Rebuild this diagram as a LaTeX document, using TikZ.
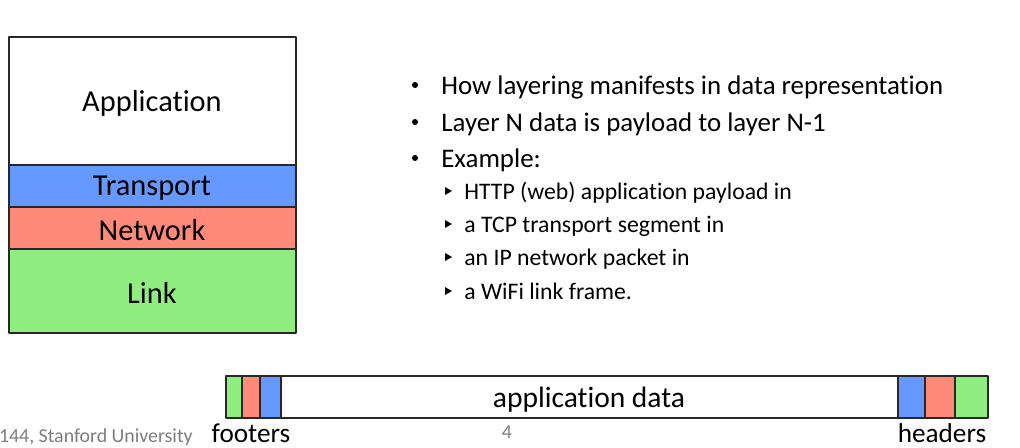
\documentclass[tikz,border=0pt]{standalone}
\usepackage{fontspec}
\setmainfont{Carlito}[Ligatures={NoCommon}]
\usetikzlibrary{positioning}
\definecolor{layblue}{RGB}{102,153,255}
\definecolor{layred}{RGB}{255,138,122}
\definecolor{laygreen}{RGB}{144,238,128}
\definecolor{framegray}{RGB}{40,40,40}
\definecolor{slidegray}{RGB}{125,125,125}
\tikzset{
  layer/.style={draw=framegray, line width=0.7pt},
  layertxt/.style={font=\fontsize{17.3}{20}\selectfont},
  datatxt/.style={font=\fontsize{16.8}{20}\selectfont},
  edgetxt/.style={inner sep=0pt, font=\fontsize{15.5}{18}\selectfont},
  maintxt/.style={anchor=base west, inner sep=0pt, font=\fontsize{15.3}{18}\selectfont},
  subtxt/.style={anchor=base west, inner sep=0pt, font=\fontsize{13.5}{16}\selectfont},
  slidetxt/.style={text=slidegray, inner sep=0pt, font=\fontsize{11.3}{13}\selectfont}
}
\begin{document}
\begin{tikzpicture}[x=0.02cm, y=-0.02cm, line join=round]
    \useasboundingbox (0,0) rectangle (1020,447);
    % layer stack
    \filldraw[layer, fill=white]    (9,37)  rectangle (296,165);
    \filldraw[layer, fill=layblue]  (9,165) rectangle (296,207);
    \filldraw[layer, fill=layred]   (9,207) rectangle (296,249);
    \filldraw[layer, fill=laygreen] (9,249) rectangle (296,333);
    \node[layertxt] (app)  at (152,103) {Application};
    \node[layertxt] (tran) at (152,188) {Transport};
    \node[layertxt] (net)  at (152,230) {Network};
    \node[layertxt] (link) at (152,293) {Link};
    % bullets
    \foreach \y/\t [count=\i] in {94/How layering manifests in data representation,
        131/Layer N data is payload to layer N-1, 167/Example:} {
      \fill (415,\y-9) circle (3);
      \node[maintxt] (b\i) at (441,\y) {\t};
    }
    \foreach \y/\t [count=\i] in {199/HTTP (web) application payload in,
        232/a TCP transport segment in, 265/an IP network packet in,
        299/a WiFi link frame.} {
      \fill (445,\y-12) -- (452,\y-8) -- (445,\y-4) -- cycle;
      \node[subtxt] (s\i) at (464,\y) {\t};
    }
    % packet
    \filldraw[layer, fill=laygreen] (226,376) rectangle (242,418);
    \filldraw[layer, fill=layred]   (242,376) rectangle (260,418);
    \filldraw[layer, fill=layblue]  (260,376) rectangle (281,418);
    \filldraw[layer, fill=white]    (281,376) rectangle (898,418);
    \filldraw[layer, fill=layblue]  (898,376) rectangle (925,418);
    \filldraw[layer, fill=layred]   (925,376) rectangle (955,418);
    \filldraw[layer, fill=laygreen] (955,376) rectangle (988,418);
    \node[datatxt] (data) at (589,400) {application data};
    \node[edgetxt, anchor=base] (foot) at (251,442) {footers};
    \node[edgetxt, anchor=base] (head) at (942,442) {headers};
    % slide footer
    \node[slidetxt, anchor=base east] (course) at (193,442) {144, Stanford University};
    \node[slidetxt, anchor=base] (page) at (507,438) {4};
\end{tikzpicture}
\end{document}
